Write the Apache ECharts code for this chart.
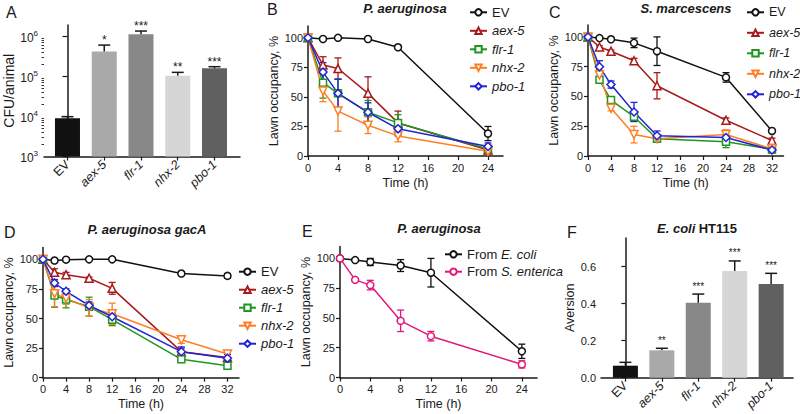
<!DOCTYPE html>
<html><head><meta charset="utf-8">
<script src="https://cdn.jsdelivr.net/npm/echarts@6/dist/echarts.min.js"></script>
<style>html,body{margin:0;padding:0;background:#fff}#c{width:800px;height:414px}</style>
</head><body><div id="c"></div>
<script>
// ---------- DATA ----------
const genes = ['EV', 'aex-5', 'flr-1', 'nhx-2', 'pbo-1'];
// Panel A: CFU/animal
const A_cfu = [9000, 420000, 1140000, 105000, 160000];
const A_err = [900, 190000, 230000, 22000, 16000];
const A_sig = ['', '*', '***', '**', '***'];
const A_ticks = [1e3, 1e4, 1e5, 1e6];
// Panel B: P. aeruginosa
const B_time = [0, 2, 4, 8, 12, 24];
const B_EV = [100, 99, 100, 99, 92, 19];   const B_EV_err = [0, 1, 1, 1, 1.5, 6];
const B_aex = [100, 77, 74, 53, 28, 5];    const B_aex_err = [0, 7, 9, 14, 10, 3];
const B_flr = [100, 62, 53, 37, 28, 6];    const B_flr_err = [0, 13, 12, 10, 7, 3];
const B_nhx = [100, 55, 38, 26, 17, 4];    const B_nhx_err = [0, 9, 17, 7, 5, 2];
const B_pbo = [100, 71, 53, 37, 23, 8];    const B_pbo_err = [0, 8, 12, 8, 6, 3];
// Panel C: S. marcescens
const C_time = [0, 2, 4, 8, 12, 24, 32];
const C_EV = [100, 99, 98, 95, 88, 66, 21];      const C_EV_err = [0, 1, 1, 4, 12, 4, 1];
const C_aex = [100, 91.5, 88, 80, 59, 30, 13];   const C_aex_err = [0, 1, 1, 2, 11, 2, 2];
const C_flr = [100, 64, 47, 33, 14.5, 12, 5.5];  const C_flr_err = [0, 2, 2, 4, 3, 5, 3];
const C_nhx = [100, 68, 40, 18, 14.5, 18, 6];    const C_nhx_err = [0, 2, 2, 7, 2, 4, 2];
const C_pbo = [100, 75, 60, 37, 17, 15.5, 5];    const C_pbo_err = [0, 5, 3, 8, 4, 2, 2];
// Panel D: P. aeruginosa gacA
const D_time = [0, 2, 4, 8, 12, 24, 32];
const D_EV = [100, 99, 99.7, 100, 100, 88, 86];  const D_EV_err = [0, 1, 1, 1, 1, 1, 2];
const D_aex = [100, 89, 87, 84, 75.5, 22, 17];   const D_aex_err = [0, 3, 2, 1, 5, 3, 3];
const D_flr = [100, 69.5, 66, 60, 49, 15.5, 10]; const D_flr_err = [0, 10, 7, 8, 5, 2, 1];
const D_nhx = [100, 71, 67, 59, 54, 32, 20];     const D_nhx_err = [0, 11, 5, 7, 9, 3, 3];
const D_pbo = [100, 80, 73, 61, 51.5, 22, 16.5]; const D_pbo_err = [0, 3, 2, 3, 3, 4, 3];
// Panel E: P. aeruginosa, worms from E. coli / S. enterica
const E_time = [0, 2, 4, 8, 12, 24];
const E_coli = [100, 98.6, 97, 94, 88, 22];       const E_coli_err = [0, 1, 3, 5, 12, 6];
const E_sent = [100, 82, 77.6, 47.6, 34.7, 11];   const E_sent_err = [0, 1, 4, 9, 4, 3];
// Panel F: Aversion on E. coli HT115
const F_av = [0.065, 0.148, 0.405, 0.577, 0.507];
const F_err = [0.018, 0.011, 0.047, 0.054, 0.057];
const F_sig = ['', '**', '***', '***', '***'];
// Tick labels
const occTicks = [0, 25, 50, 75, 100];
const timeTicks24 = [0, 4, 8, 12, 16, 20, 24];
const timeTicks32 = [0, 4, 8, 12, 16, 20, 24, 28, 32];
const avTicks = [0, 0.2, 0.4, 0.6];
const catIdx = [0, 1, 2, 3, 4];
const logMinor = [1, 2, 3, 4, 5, 6, 7, 8, 9];

// ---------- STYLE ----------
const FONT = 'Liberation Sans, Arial, Helvetica, sans-serif';
const INK = '#1a1a1a';
const barColors = ['#111111', '#a9a9a9', '#888888', '#d6d6d6', '#606060'];
const col = { EV: '#111111', aex: '#a8191c', flr: '#1f961f', nhx: '#ff7f24', pbo: '#2323d6', pink: '#e2187c' };
const DOWN = 'path://M0,0 L10,0 L5,9 Z';
const sym = { EV: ['circle', 7], aex: ['triangle', 8], flr: ['rect', 7], nhx: [DOWN, 8], pbo: ['diamond', 8] };

const chart = echarts.init(document.getElementById('c'), null, { renderer: 'svg' });

const axisLine = { show: true, lineStyle: { color: INK, width: 1.5 } };
const axisTickBase = { show: true, length: 4, lineStyle: { color: INK, width: 1.2 } };

function lineSeries(name, gi, t, v, c, s) {
  return {
    type: 'line', name, xAxisIndex: gi, yAxisIndex: gi, z: 3,
    data: t.map((x, i) => [x, v[i]]), symbol: s[0], symbolSize: s[1], showAllSymbol: true,
    lineStyle: { color: c, width: 1.5 },
    itemStyle: { color: '#fff', borderColor: c, borderWidth: 1.5 },
    emphasis: { disabled: true }, animation: false
  };
}
function errSeries(gi, t, v, e, c) {
  return {
    type: 'custom', xAxisIndex: gi, yAxisIndex: gi, z: 2, silent: true, animation: false,
    data: t.map((x, i) => [x, v[i] - e[i], v[i] + e[i]]),
    renderItem: (p, api) => {
      const lo = api.value(1), hi = api.value(2);
      if (!(hi - lo > 0)) return { type: 'group', children: [] };
      const a = api.coord([api.value(0), lo]), b = api.coord([api.value(0), hi]);
      const st = { stroke: c, lineWidth: 1.3 }, w = 3.5;
      return { type: 'group', children: [
        { type: 'line', shape: { x1: a[0], y1: a[1], x2: b[0], y2: b[1] }, style: st },
        { type: 'line', shape: { x1: a[0] - w, y1: a[1], x2: a[0] + w, y2: a[1] }, style: st },
        { type: 'line', shape: { x1: b[0] - w, y1: b[1], x2: b[0] + w, y2: b[1] }, style: st }
      ] };
    }
  };
}
function barErrSeries(gi, v, e, sig, fs, gap) {
  return {
    type: 'custom', xAxisIndex: gi, yAxisIndex: gi, z: 4, silent: true, animation: false,
    data: v.map((y, i) => [i, y, y + e[i]]),
    renderItem: (p, api) => {
      const a = api.coord([api.value(0), api.value(1)]), b = api.coord([api.value(0), api.value(2)]);
      const st = { stroke: INK, lineWidth: 1.5 }, w = 6;
      const ch = [
        { type: 'line', shape: { x1: a[0], y1: a[1], x2: b[0], y2: b[1] }, style: st },
        { type: 'line', shape: { x1: b[0] - w, y1: b[1], x2: b[0] + w, y2: b[1] }, style: st }
      ];
      const s = sig[p.dataIndex];
      if (s) ch.push({ type: 'text', x: b[0], y: b[1] - gap, style: { text: s, fontSize: fs, fontFamily: FONT, fill: INK, align: 'center', verticalAlign: 'middle' } });
      return { type: 'group', children: ch };
    }
  };
}
function barSeries(gi, v) {
  return {
    type: 'bar', xAxisIndex: gi, yAxisIndex: gi, barWidth: 25, z: 3, animation: false,
    data: v.map((y, i) => ({ value: [i, y], itemStyle: { color: barColors[i] } })),
    emphasis: { disabled: true }
  };
}
const geneFmt = v => { const n = genes[v]; if (n === undefined) return ''; return n === 'EV' ? n : '{i|' + n + '}'; };
const italicRich = { i: { fontStyle: 'italic', fontSize: 12.5, fontFamily: FONT, color: INK } };

function timeX(gi, max, ticks) {
  return {
    gridIndex: gi, type: 'value', min: 0, max: max,
    axisLine, axisTick: Object.assign({}, axisTickBase, { customValues: ticks }),
    axisLabel: { customValues: ticks, fontSize: 11, color: INK, fontFamily: FONT, margin: 6 },
    splitLine: { show: false },
    name: 'Time (h)', nameLocation: 'middle', nameGap: 20,
    nameTextStyle: { fontSize: 12.5, color: INK, fontFamily: FONT }
  };
}
function occY(gi, gap) {
  return {
    gridIndex: gi, type: 'value', min: 0, max: 110,
    axisLine, axisTick: Object.assign({}, axisTickBase, { customValues: occTicks }),
    axisLabel: { customValues: occTicks, fontSize: 11, color: INK, fontFamily: FONT, margin: 5 },
    splitLine: { show: false },
    name: 'Lawn occupancy, %', nameLocation: 'middle', nameGap: gap,
    nameTextStyle: { fontSize: 12.5, color: INK, fontFamily: FONT }
  };
}
function legend(left, top, gap, names, fmt, fs) {
  return {
    orient: 'vertical', left, top, itemWidth: 17, itemHeight: 8, itemGap: gap,
    selectedMode: false, data: names, width: 120,
    textStyle: { fontSize: fs, color: INK, fontFamily: FONT, lineHeight: 14, overflow: 'none',
      rich: { i: { fontStyle: 'italic', fontSize: fs, lineHeight: 14, fontFamily: FONT, color: INK } } },
    formatter: fmt
  };
}
const gFmt = n => n === 'EV' ? n : '{i|' + n + '}';

const grids = [
  { left: 44, top: 25, width: 196, height: 131.5 },   // A
  { left: 308, top: 26, width: 195, height: 130 },    // B
  { left: 588, top: 25, width: 195.5, height: 131 },  // C
  { left: 43, top: 247.5, width: 196, height: 130.2 },// D
  { left: 340, top: 246.5, width: 197, height: 131 }, // E
  { left: 601, top: 238, width: 192, height: 139.7 }  // F
].map(g => Object.assign({ outerBoundsMode: 'none', containLabel: false }, g));

const catX = (gi, min, max) => ({
  gridIndex: gi, type: 'value', min, max,
  axisLine, axisTick: Object.assign({}, axisTickBase, { customValues: catIdx }),
  axisLabel: { customValues: catIdx, formatter: geneFmt, rotate: 45, fontSize: 12.5, color: INK, fontFamily: FONT, margin: 6, rich: italicRich },
  splitLine: { show: false }
});

const logFmt = v => {
  const e = Math.log10(v), r = Math.round(e);
  if (Math.abs(e - r) > 1e-6) return '';
  return '{b|10}{s|' + r + '}';
};
const minorVals = [];
A_ticks.forEach(d => logMinor.forEach(m => { if (m > 1 && d * m < 1940000) minorVals.push(d * m); }));

const genesLine = ['EV', 'aex-5', 'flr-1', 'nhx-2', 'pbo-1'];
function panelSeries(gi, t, arr) {
  const out = [];
  arr.forEach(([name, v, e, key]) => out.push(lineSeries(name, gi, t, v, col[key], sym[key])));
  arr.forEach(([name, v, e, key]) => out.push(errSeries(gi, t, v, e, col[key])));
  return out;
}

const series = [].concat(
  [barSeries(0, A_cfu), barErrSeries(0, A_cfu, A_err, A_sig, 12, 5)],
  panelSeries(1, B_time, [
    ['EV', B_EV, B_EV_err, 'EV'], ['aex-5', B_aex, B_aex_err, 'aex'], ['flr-1', B_flr, B_flr_err, 'flr'],
    ['nhx-2', B_nhx, B_nhx_err, 'nhx'], ['pbo-1', B_pbo, B_pbo_err, 'pbo']]),
  panelSeries(2, C_time, [
    ['EV', C_EV, C_EV_err, 'EV'], ['aex-5', C_aex, C_aex_err, 'aex'], ['flr-1', C_flr, C_flr_err, 'flr'],
    ['nhx-2', C_nhx, C_nhx_err, 'nhx'], ['pbo-1', C_pbo, C_pbo_err, 'pbo']]),
  panelSeries(3, D_time, [
    ['EV', D_EV, D_EV_err, 'EV'], ['aex-5', D_aex, D_aex_err, 'aex'], ['flr-1', D_flr, D_flr_err, 'flr'],
    ['nhx-2', D_nhx, D_nhx_err, 'nhx'], ['pbo-1', D_pbo, D_pbo_err, 'pbo']]),
  [lineSeries('From E. coli', 4, E_time, E_coli, col.EV, ['circle', 7]),
   lineSeries('From S. enterica', 4, E_time, E_sent, col.pink, ['circle', 7]),
   errSeries(4, E_time, E_coli, E_coli_err, col.EV),
   errSeries(4, E_time, E_sent, E_sent_err, col.pink)],
  [barSeries(5, F_av), barErrSeries(5, F_av, F_err, F_sig, 10, 8)]
);

const txt = (text, x, y, extra) => ({ type: 'text', x, y, silent: true,
  style: Object.assign({ text, fontFamily: FONT, fill: INK, verticalAlign: 'middle' }, extra) });
const titleStyle = { fontSize: 13, fontWeight: 'bold', fontStyle: 'italic', align: 'center' };

chart.setOption({
  animation: false,
  backgroundColor: '#fff',
  grid: grids,
  xAxis: [
    catX(0, -0.639, 4.694),
    timeX(1, 26, timeTicks24),
    timeX(2, 34, timeTicks32),
    timeX(3, 34, timeTicks32),
    timeX(4, 26, timeTicks24),
    catX(5, -0.67, 4.6)
  ],
  yAxis: [
    { gridIndex: 0, type: 'log', logBase: 10, min: 1000, max: 1940000,
      axisLine, axisTick: Object.assign({}, axisTickBase, { length: 5, customValues: A_ticks }),
      axisLabel: { customValues: A_ticks, formatter: logFmt, margin: 6, color: INK,
        rich: { b: { fontSize: 12, fontFamily: FONT, color: INK, lineHeight: 14, verticalAlign: 'bottom' },
                s: { fontSize: 8, fontFamily: FONT, color: INK, lineHeight: 14, verticalAlign: 'top' } } },
      splitLine: { show: false },
      name: 'CFU/animal', nameLocation: 'middle', nameGap: 25,
      nameTextStyle: { fontSize: 14, color: INK, fontFamily: FONT } },
    occY(1, 28), occY(2, 24.5), occY(3, 27.5), occY(4, 28),
    { gridIndex: 5, type: 'value', min: 0, max: 0.755,
      axisLine, axisTick: Object.assign({}, axisTickBase, { customValues: avTicks }),
      axisLabel: { customValues: avTicks, formatter: v => v.toFixed(1), fontSize: 11, color: INK, fontFamily: FONT, margin: 5 },
      splitLine: { show: false },
      name: 'Aversion', nameLocation: 'middle', nameGap: 24,
      nameTextStyle: { fontSize: 12.5, color: INK, fontFamily: FONT } },
    // minor ticks of the log axis in panel A
    { gridIndex: 0, type: 'log', logBase: 10, min: 1000, max: 1940000, position: 'left',
      axisLine: { show: false },
      axisTick: { show: true, length: 2.5, customValues: minorVals, lineStyle: { color: INK, width: 0.9 } },
      axisLabel: { show: false }, splitLine: { show: false } }
  ],
  legend: [
    legend(464, 0.3, 4.5, genesLine, gFmt, 13),
    legend(741, 0.3, 6.5, genesLine, gFmt, 12.5),
    legend(233, 259.7, 4, genesLine, gFmt, 13),
    legend(439, 242.3, 3.4, ['From E. coli', 'From S. enterica'], n => 'From {i|' + n.slice(5) + '}', 13)
  ],
  series,
  graphic: [
    txt('A', 6, 12.5, { fontSize: 16 }),
    txt('B', 267, 9.5, { fontSize: 16 }),
    txt('C', 549, 12, { fontSize: 16 }),
    txt('D', 4, 232, { fontSize: 16 }),
    txt('E', 302, 231, { fontSize: 16 }),
    txt('F', 567, 232, { fontSize: 16 }),
    txt('P. aeruginosa', 405, 8, titleStyle),
    txt('S. marcescens', 686, 8, titleStyle),
    txt('P. aeruginosa gacA', 147, 229, titleStyle),
    txt('P. aeruginosa', 439, 228, titleStyle),
    txt('{bi|E. coli} {b|HT115}', 697, 228, { align: 'center',
      rich: { bi: { fontSize: 13, fontWeight: 'bold', fontStyle: 'italic', fontFamily: FONT, fill: INK },
              b: { fontSize: 13, fontWeight: 'bold', fontFamily: FONT, fill: INK } } })
  ]
});
</script>
</body></html>
